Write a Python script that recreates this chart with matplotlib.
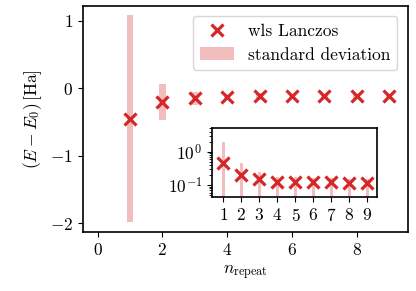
import numpy as np
import matplotlib
matplotlib.use("Agg")
import matplotlib.pyplot as plt

plt.rcParams['font.family'] = 'serif'
plt.rcParams['font.serif'] = ['cmr10', 'DejaVu Serif']
plt.rcParams['mathtext.fontset'] = 'cm'
plt.rcParams['axes.formatter.use_mathtext'] = True
plt.rcParams['font.size'] = 12.5

n_repeat = np.array([1, 2, 3, 4, 5, 6, 7, 8, 9])
mean_err = np.array([-0.45, -0.20, -0.148, -0.128, -0.122, -0.12, -0.12, -0.116, -0.113])
std_err = np.array([1.53, 0.27, 0.095, 0.05, 0.055, 0.04, 0.04, 0.036, 0.035])

red = '#d62728'

fig = plt.figure(figsize=(4.16, 2.91), dpi=100)
ax = fig.add_axes([0.1995, 0.2027, 0.781, 0.777])

bars = ax.bar(n_repeat, 2 * std_err, bottom=mean_err - std_err, width=0.2,
              color=red, alpha=0.3, linewidth=0)
pts, = ax.plot(n_repeat, mean_err, 'x', color=red, markersize=9, mew=2.3)
ax.set_xlim(-0.45, 9.58)
ax.set_ylim(-2.13, 1.22)
ax.set_xticks([0, 2, 4, 6, 8])
ax.set_yticks([-2, -1, 0, 1])
ax.set_xlabel(r'$n_\mathrm{repeat}$')
ax.set_ylabel(r'$(E-E_0)\,[\mathrm{Ha}]$')
for s in ax.spines.values():
    s.set_linewidth(1.2)

ax.legend([pts, bars], ['wls Lanczos', 'standard deviation'],
          loc='upper right', handlelength=2.0, borderaxespad=0.6)

# inset, log of absolute error
ins = fig.add_axes([0.5096, 0.323, 0.397, 0.237])
abs_err = np.abs(mean_err)
ins.bar(n_repeat, abs_err + std_err, bottom=1e-3, width=0.2,
        color=red, alpha=0.3, linewidth=0)
ins.plot(n_repeat, abs_err, 'x', color=red, markersize=9, mew=2.3)
ins.set_yscale('log')
ins.set_xlim(0.37, 9.54)
ins.set_ylim(0.044, 5.1)
ins.set_xticks(n_repeat)
for s in ins.spines.values():
    s.set_linewidth(1.2)

fig.savefig('out.png', dpi=100)
